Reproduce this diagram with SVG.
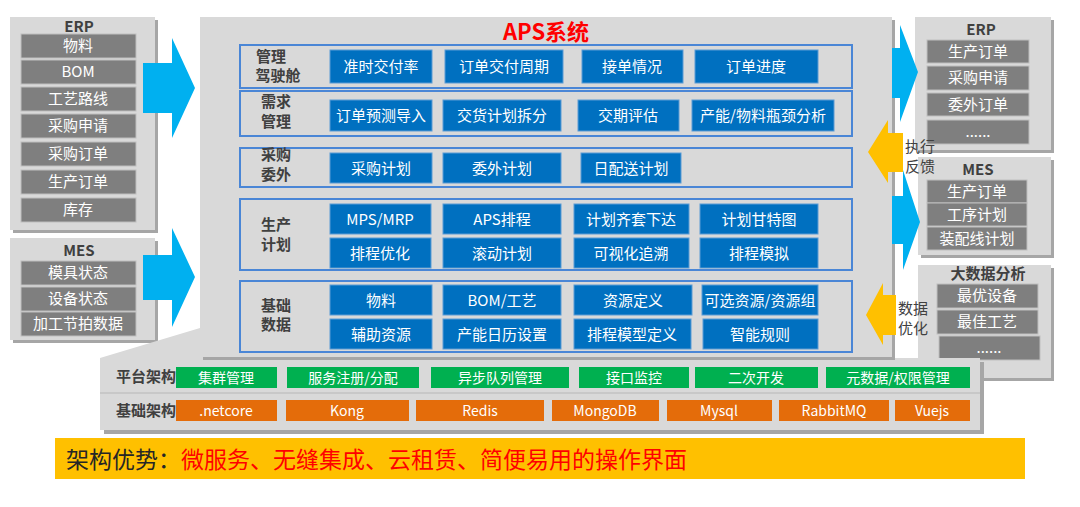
<svg xmlns="http://www.w3.org/2000/svg" width="1080" height="507" viewBox="0 0 1080 507">
<defs>
<style>
text{font-family:"Noto Sans CJK SC","Liberation Sans",sans-serif;text-anchor:middle}
.panel{fill:#d9d9d9}
.sh{fill:#a6a6a6}
.g{fill:#7f7f7f;stroke:#bfbfbf;stroke-width:1}
.gt{fill:#fff;font-size:15px}
.ttl{fill:#404040;font-size:15px;font-weight:bold}
.row{fill:none;stroke:#4a86d6;stroke-width:2}
.b{fill:#0070c0;stroke:#5b9bd5;stroke-width:1}
.bt{fill:#fff;font-size:15px}
.lab{fill:#404040;font-size:15px;font-weight:bold}
.gr{fill:#00b050}
.or{fill:#e46c0a}
.ct{fill:#fff;font-size:14px}
.ar{fill:#00b0f0}
.ya{fill:#ffc000}
.side{fill:#404040;font-size:15px}
</style>
</defs>
<rect width="1080" height="507" fill="#fff"/>
<g id="erp-left">
<rect class="sh" x="13" y="20" width="145" height="213"/>
<rect class="panel" x="10" y="17" width="145" height="213"/>
<text class="ttl" x="79" y="32">ERP</text>
<rect class="g" x="21" y="34" width="115" height="24"/><text class="gt" x="78" y="51">物料</text>
<rect class="g" x="21" y="60" width="115" height="24"/><text class="gt" x="78" y="77">BOM</text>
<rect class="g" x="21" y="87" width="115" height="24"/><text class="gt" x="78" y="104">工艺路线</text>
<rect class="g" x="21" y="114" width="115" height="24"/><text class="gt" x="78" y="131">采购申请</text>
<rect class="g" x="21" y="142" width="115" height="24"/><text class="gt" x="78" y="159">采购订单</text>
<rect class="g" x="21" y="170" width="115" height="24"/><text class="gt" x="78" y="187">生产订单</text>
<rect class="g" x="21" y="198" width="115" height="24"/><text class="gt" x="78" y="215">库存</text>
</g>
<g id="mes-left">
<rect class="sh" x="13" y="241" width="145" height="102"/>
<rect class="panel" x="10" y="238" width="145" height="102"/>
<text class="ttl" x="79" y="256">MES</text>
<rect class="g" x="21" y="261" width="115" height="24"/><text class="gt" x="78" y="278">模具状态</text>
<rect class="g" x="21" y="287" width="115" height="24"/><text class="gt" x="78" y="304">设备状态</text>
<rect class="g" x="21" y="312" width="115" height="24"/><text class="gt" x="78" y="329">加工节拍数据</text>
</g>
<g id="erp-right">
<rect class="sh" x="918" y="20" width="136" height="133"/>
<rect class="panel" x="915" y="17" width="136" height="133"/>
<text class="ttl" x="981" y="35">ERP</text>
<rect class="g" x="927" y="40" width="102" height="23"/><text class="gt" x="978" y="57">生产订单</text>
<rect class="g" x="927" y="66" width="102" height="24"/><text class="gt" x="978" y="83">采购申请</text>
<rect class="g" x="927" y="93" width="102" height="23"/><text class="gt" x="978" y="110">委外订单</text>
<rect class="g" x="927" y="120" width="102" height="24"/><text class="gt" x="978" y="137">......</text>
</g>
<g id="mes-right">
<rect class="sh" x="921" y="160" width="133" height="98"/>
<rect class="panel" x="918" y="157" width="133" height="98"/>
<text class="ttl" x="978" y="175">MES</text>
<rect class="g" x="927" y="180" width="100" height="23"/><text class="gt" x="977" y="197">生产订单</text>
<rect class="g" x="927" y="203" width="100" height="23"/><text class="gt" x="977" y="220">工序计划</text>
<rect class="g" x="927" y="227" width="100" height="23"/><text class="gt" x="977" y="244">装配线计划</text>
</g>
<g id="bigdata">
<rect class="sh" x="921" y="268" width="133" height="113"/>
<rect class="panel" x="918" y="265" width="133" height="113"/>
<text class="ttl" x="988" y="279">大数据分析</text>
<rect class="g" x="937" y="284" width="101" height="24"/><text class="gt" x="987" y="301">最优设备</text>
<rect class="g" x="937" y="310" width="101" height="24"/><text class="gt" x="987" y="327">最佳工艺</text>
<rect class="g" x="939" y="336" width="101" height="24"/><text class="gt" x="989" y="353">......</text>
</g>
<g id="platform">
<polygon class="sh" points="104,362 204,332 304,332 304,362 984,362 984,434 104,434"/>
<polygon class="panel" points="100,358 200,328 300,328 300,358 980,358 980,430 100,430"/>
<line x1="100" y1="393" x2="980" y2="393" stroke="#c8c8c8" stroke-width="2"/>
<text class="lab" x="146" y="382">平台架构</text>
<text class="lab" x="146" y="416">基础架构</text>
<rect class="gr" x="176" y="367" width="101" height="21"/><text class="ct" x="226" y="383">集群管理</text>
<rect class="gr" x="287" y="367" width="132" height="21"/><text class="ct" x="353" y="383">服务注册/分配</text>
<rect class="gr" x="431" y="367" width="138" height="21"/><text class="ct" x="500" y="383">异步队列管理</text>
<rect class="gr" x="579" y="367" width="110" height="21"/><text class="ct" x="634" y="383">接口监控</text>
<rect class="gr" x="695" y="367" width="123" height="21"/><text class="ct" x="756" y="383">二次开发</text>
<rect class="gr" x="826" y="367" width="144" height="21"/><text class="ct" x="898" y="383">元数据/权限管理</text>
<rect class="or" x="176" y="400" width="101" height="21"/><text class="ct" x="226" y="416">.netcore</text>
<rect class="or" x="286" y="400" width="123" height="21"/><text class="ct" x="347" y="416">Kong</text>
<rect class="or" x="416" y="400" width="128" height="21"/><text class="ct" x="480" y="416">Redis</text>
<rect class="or" x="552" y="400" width="107" height="21"/><text class="ct" x="605" y="416">MongoDB</text>
<rect class="or" x="667" y="400" width="105" height="21"/><text class="ct" x="719" y="416">Mysql</text>
<rect class="or" x="779" y="400" width="110" height="21"/><text class="ct" x="834" y="416">RabbitMQ</text>
<rect class="or" x="895" y="400" width="75" height="21"/><text class="ct" x="932" y="416">Vuejs</text>
</g>
<g id="aps">
<rect class="sh" x="203" y="20" width="692" height="340"/>
<rect class="panel" x="200" y="17" width="692" height="340"/>
<text x="546" y="40" fill="#ff0000" font-size="22" font-weight="bold">APS系统</text>
<rect class="row" x="240" y="45" width="612" height="43"/>
<rect class="row" x="240" y="91" width="612" height="45"/>
<rect class="row" x="240" y="148" width="612" height="39"/>
<rect class="row" x="240" y="199" width="612" height="71"/>
<rect class="row" x="240" y="281" width="612" height="71"/>
<text class="lab" x="271" y="62">管理</text><text class="lab" x="278" y="81">驾驶舱</text>
<text class="lab" x="276" y="107">需求</text><text class="lab" x="276" y="127">管理</text>
<text class="lab" x="276" y="160">采购</text><text class="lab" x="276" y="180">委外</text>
<text class="lab" x="276" y="230">生产</text><text class="lab" x="276" y="250">计划</text>
<text class="lab" x="276" y="311">基础</text><text class="lab" x="276" y="330">数据</text>
<rect class="b" x="330" y="50" width="102" height="33"/><text class="bt" x="381" y="72">准时交付率</text>
<rect class="b" x="445" y="50" width="118" height="33"/><text class="bt" x="504" y="72">订单交付周期</text>
<rect class="b" x="582" y="50" width="101" height="33"/><text class="bt" x="632" y="72">接单情况</text>
<rect class="b" x="695" y="50" width="123" height="33"/><text class="bt" x="756" y="72">订单进度</text>
<rect class="b" x="330" y="100" width="102" height="31"/><text class="bt" x="381" y="121">订单预测导入</text>
<rect class="b" x="443" y="100" width="118" height="31"/><text class="bt" x="502" y="121">交货计划拆分</text>
<rect class="b" x="578" y="100" width="101" height="31"/><text class="bt" x="628" y="121">交期评估</text>
<rect class="b" x="692" y="100" width="142" height="31"/><text class="bt" x="763" y="121">产能/物料瓶颈分析</text>
<rect class="b" x="330" y="153" width="102" height="30"/><text class="bt" x="381" y="174">采购计划</text>
<rect class="b" x="443" y="153" width="118" height="30"/><text class="bt" x="502" y="174">委外计划</text>
<rect class="b" x="581" y="153" width="100" height="30"/><text class="bt" x="631" y="174">日配送计划</text>
<rect class="b" x="330" y="204" width="101" height="30"/><text class="bt" x="380" y="225">MPS/MRP</text>
<rect class="b" x="443" y="204" width="118" height="30"/><text class="bt" x="502" y="225">APS排程</text>
<rect class="b" x="574" y="204" width="115" height="30"/><text class="bt" x="631" y="225">计划齐套下达</text>
<rect class="b" x="700" y="204" width="118" height="30"/><text class="bt" x="759" y="225">计划甘特图</text>
<rect class="b" x="330" y="238" width="101" height="30"/><text class="bt" x="380" y="259">排程优化</text>
<rect class="b" x="443" y="238" width="118" height="30"/><text class="bt" x="502" y="259">滚动计划</text>
<rect class="b" x="574" y="238" width="115" height="30"/><text class="bt" x="631" y="259">可视化追溯</text>
<rect class="b" x="700" y="238" width="118" height="30"/><text class="bt" x="759" y="259">排程模拟</text>
<rect class="b" x="330" y="285" width="102" height="30"/><text class="bt" x="381" y="306">物料</text>
<rect class="b" x="443" y="285" width="118" height="30"/><text class="bt" x="502" y="306">BOM/工艺</text>
<rect class="b" x="574" y="285" width="118" height="30"/><text class="bt" x="633" y="306">资源定义</text>
<rect class="b" x="702" y="285" width="116" height="30"/><text class="bt" x="760" y="306">可选资源/资源组</text>
<rect class="b" x="330" y="319" width="102" height="30"/><text class="bt" x="381" y="340">辅助资源</text>
<rect class="b" x="443" y="319" width="118" height="30"/><text class="bt" x="502" y="340">产能日历设置</text>
<rect class="b" x="574" y="319" width="117" height="30"/><text class="bt" x="632" y="340">排程模型定义</text>
<rect class="b" x="703" y="319" width="115" height="30"/><text class="bt" x="760" y="340">智能规则</text>
</g>
<g id="connectors">
<polygon class="ar" points="143,63 172,63 172,38 195,88 172,138 172,113 143,113"/>
<polygon class="ar" points="143,255 172,255 172,228 195,277 172,327 172,300 143,300"/>
<polygon class="ar" points="892,48 900,48 900,25 918,72 900,122 900,98 892,98"/>
<polygon class="ar" points="892,196 903,196 903,170 920,222 903,270 903,244 892,244"/>
<polygon class="ya" points="868,152 888,120 888,133 903,133 903,172 888,172 888,183"/>
<polygon class="ya" points="866,315 883,283 883,295 896,295 896,335 883,335 883,345"/>
<text class="side" x="920" y="152">执行</text>
<text class="side" x="920" y="172">反馈</text>
<text class="side" x="913" y="314">数据</text>
<text class="side" x="913" y="334">优化</text>
</g>
<g id="advantage">
<rect x="55" y="438" width="970" height="41" fill="#ffc000"/>
<text x="66" y="468" font-size="23" style="text-anchor:start"><tspan fill="#262626">架构优势：</tspan><tspan fill="#ff0000">微服务、无缝集成、云租赁、简便易用的操作界面</tspan></text>
</g>
</svg>
